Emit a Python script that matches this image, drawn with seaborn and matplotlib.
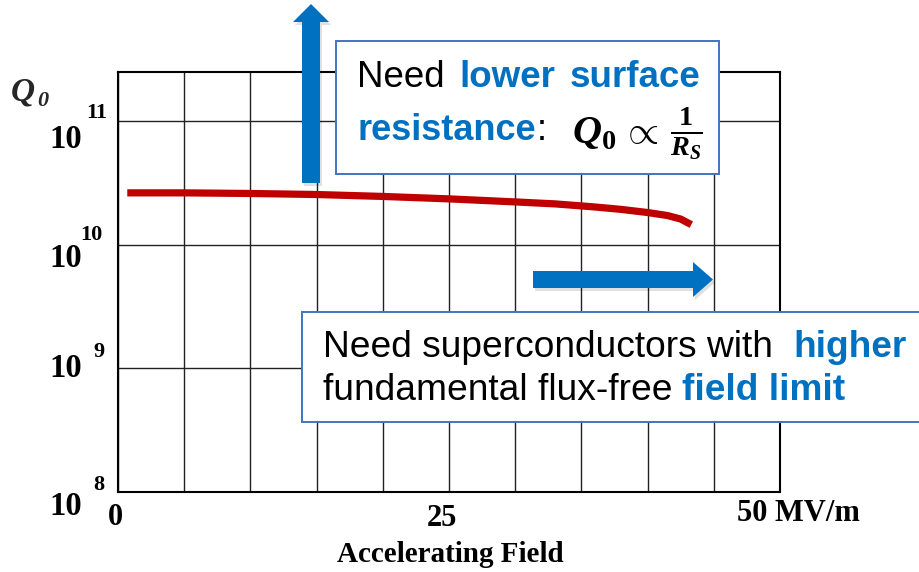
import numpy as np
import matplotlib
matplotlib.use("Agg")
import matplotlib.pyplot as plt
import seaborn as sns
from matplotlib.patches import FancyArrow, Rectangle
from matplotlib.transforms import Affine2D

# Q0 vs accelerating field (MV/m)
field = [0.7, 5, 10, 15, 20, 25, 30, 33, 36, 38, 40, 41.5, 42.5, 43.3]
q0 = [2.64e10, 2.64e10, 2.61e10, 2.56e10, 2.47e10, 2.36e10, 2.23e10,
      2.15e10, 2.03e10, 1.94e10, 1.83e10, 1.73e10, 1.62e10, 1.46e10]

decades = [8, 9, 10, 11]
x_ticks = [0, 25, 50]
x_tick_labels = ["0", "25", "50 MV/m"]
x_label = "Accelerating Field"

W, H = 919, 572
BLUE = "#0070C0"
BOX_EDGE = "#4472C4"
RED = "#C00000"

sns.set_theme(style="white")
plt.rcParams["font.family"] = ["Liberation Sans", "DejaVu Sans"]
plt.rcParams["mathtext.fontset"] = "custom"
plt.rcParams["mathtext.it"] = "Liberation Serif:italic:bold"
plt.rcParams["mathtext.rm"] = "Liberation Serif:bold"
plt.rcParams["mathtext.bf"] = "Liberation Serif:bold"

fig = plt.figure(figsize=(W / 100, H / 100), dpi=100)
fig.patch.set_facecolor("white")
ax = fig.add_axes([118 / W, 1 - 492 / H, 662 / W, 420 / H])
ax.set_yscale("log")

sns.lineplot(x=field, y=q0, ax=ax, color=RED, linewidth=5.2, sort=False,
             legend=False, solid_capstyle="butt", solid_joinstyle="round")

ax.set_xlim(0, 50)
ax.set_ylim(1e8, 10 ** 11.4)
ax.set_xticks(np.arange(0, 51, 5))
ax.set_yticks([10.0 ** d for d in decades])
ax.yaxis.set_minor_locator(matplotlib.ticker.NullLocator())
ax.tick_params(length=0, labelbottom=False, labelleft=False)
ax.grid(True, color="#222222", linewidth=1.0)
ax.set_axisbelow(True)
for sp in ax.spines.values():
    sp.set_visible(True)
    sp.set_color("black")
    sp.set_linewidth(1.5)
ax.set_xlabel("")
ax.set_ylabel("")

serif = dict(family="Liberation Serif", weight="bold", color="black")

# x tick labels placed just under the axis
x_offsets = [(-3, -33, "center"), (-7, -34, "center"), (-43, -29, "left")]
for val, lab, (dx, dy, ha) in zip(x_ticks, x_tick_labels, x_offsets):
    ax.annotate(lab, xy=(val, 0), xycoords=("data", "axes fraction"),
                xytext=(dx, dy), textcoords="offset pixels",
                ha=ha, va="baseline", fontsize=22, **serif)

# y tick labels as 10 with a raised exponent
base_dy = [-23, -9, -22, -27]
exp_dx = [-25, -25, -38, -32]
exp_dy = [2, 11, 5, 3]
for d, bdy, edx, edy in zip(decades, base_dy, exp_dx, exp_dy):
    ax.annotate("10", xy=(0, 10.0 ** d), xycoords=("axes fraction", "data"),
                xytext=(-36, bdy), textcoords="offset pixels",
                ha="right", va="baseline", fontsize=23.5, **serif)
    ax.annotate(str(d), xy=(0, 10.0 ** d), xycoords=("axes fraction", "data"),
                xytext=(edx, edy), textcoords="offset pixels",
                ha="left", va="baseline", fontsize=16, **serif)

# pixel coordinates measured from the top-left corner of the figure
px = Affine2D().scale(1 / W, -1 / H).translate(0, 1) + fig.transFigure

fig.text(450, 562, x_label, transform=px, ha="center", va="baseline",
         fontsize=21, **serif)
# axis name: italic Q with italic subscript 0
fig.text(11, 101, "Q", transform=px, ha="left", va="baseline", fontsize=24,
         style="italic", family="Liberation Serif", weight="bold")
fig.text(37, 106, "0", transform=px, ha="left", va="baseline", fontsize=16,
         style="italic", family="Liberation Serif", weight="bold")


def arrow(x, y, dx, dy, width, head_w, head_l):
    shadow = FancyArrow(x + 2, y + 3, dx, dy, width=width, head_width=head_w,
                        head_length=head_l, length_includes_head=True,
                        transform=px, color="#000000", alpha=0.12, lw=0,
                        zorder=3)
    body = FancyArrow(x, y, dx, dy, width=width, head_width=head_w,
                      head_length=head_l, length_includes_head=True,
                      transform=px, color=BLUE, lw=0, zorder=4)
    fig.add_artist(shadow)
    fig.add_artist(body)


arrow(311, 183, 0, -179, 18, 36, 18)
arrow(533, 279.5, 180, 0, 17, 35, 20)


def box(x0, y0, x1, y1):
    fig.add_artist(Rectangle((x0, y0), x1 - x0, y1 - y0, transform=px,
                             facecolor="white", edgecolor=BOX_EDGE,
                             linewidth=1.4, zorder=5, clip_on=False))


box(336, 41, 719, 174)
box(302, 312, 925, 422)

sans = dict(transform=px, ha="left", va="baseline", zorder=6,
            family="Liberation Sans")
fig.text(357, 87, "Need", color="black", fontsize=26.5, **sans)
fig.text(459, 87, "lower", color=BLUE, weight="bold", fontsize=26.5, **sans)
fig.text(570, 87, "surface", color=BLUE, weight="bold", fontsize=26.5, **sans)
resist = fig.text(357, 140, "resistance", color=BLUE, weight="bold",
                  fontsize=26, **sans)
# colon follows the word directly
renderer = fig.canvas.get_renderer()
right_px = resist.get_window_extent(renderer).x1
fig.text(right_px + 1, 140, ":", color="black", fontsize=26, **sans)
fig.text(572, 134, r"$Q_{0}\,\propto\,\frac{1}{R_S}$", transform=px,
         ha="left", va="center", fontsize=29, color="black", zorder=6)

fig.text(323, 357, "Need superconductors with", color="black", fontsize=26.7,
         **sans)
fig.text(793, 357, "higher", color=BLUE, weight="bold", fontsize=26.7, **sans)
fig.text(323, 400, "fundamental flux-free", color="black", fontsize=26.7,
         **sans)
fig.text(682, 400, "field limit", color=BLUE, weight="bold", fontsize=26.7,
         **sans)

fig.savefig("out.png", dpi=100, facecolor="white")
